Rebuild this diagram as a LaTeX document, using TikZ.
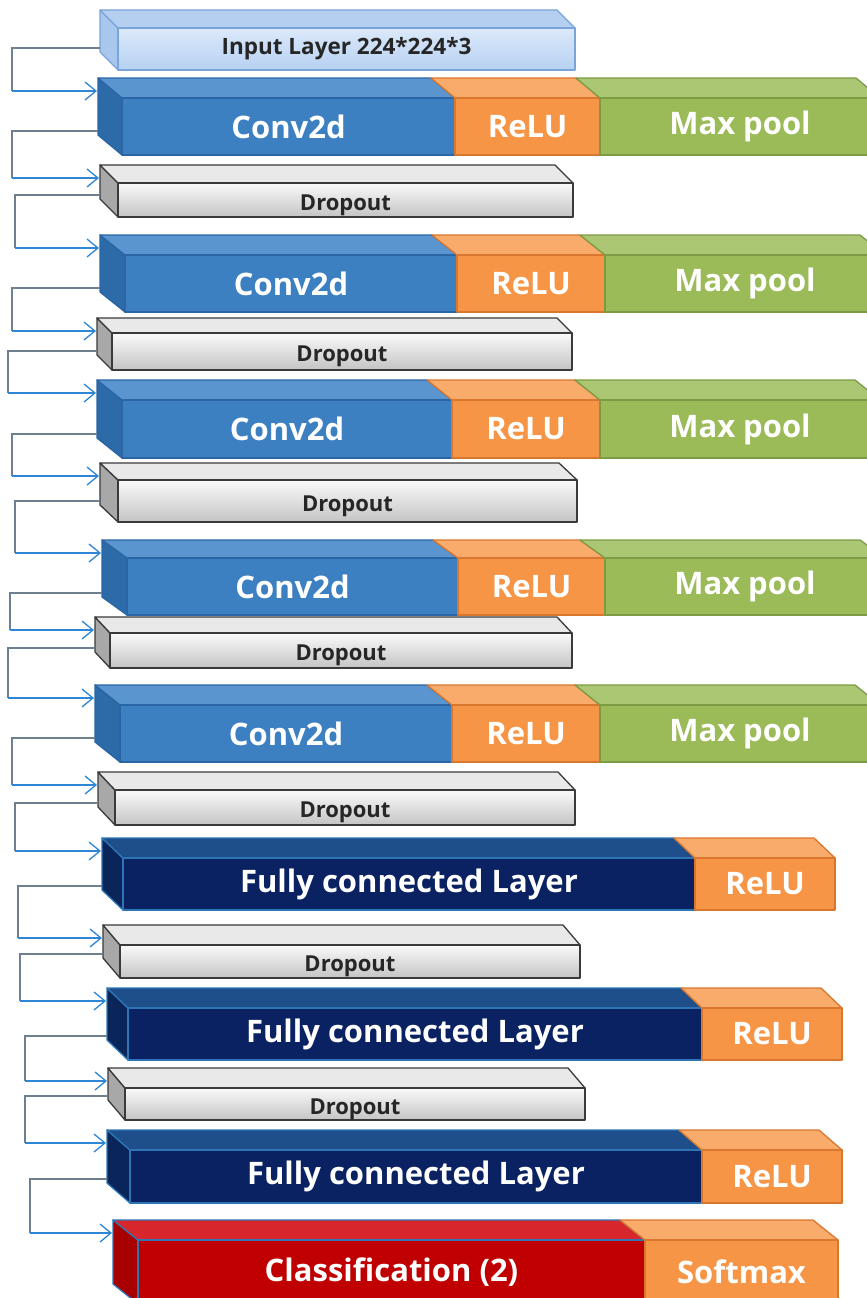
\documentclass[tikz,border=0pt]{standalone}
\usepackage{fontspec}
\setmainfont{Open Sans}
\usetikzlibrary{arrows.meta,calc}
\definecolor{inputtop}{HTML}{B4CFF0}\definecolor{inputfa}{HTML}{DCE9FA}\definecolor{inputfb}{HTML}{B6D1F2}
\definecolor{inputside}{HTML}{A9C6EC}\definecolor{inputbd}{HTML}{7AA5D8}
\definecolor{convtop}{HTML}{5A95CF}\definecolor{convfront}{HTML}{3C80C2}\definecolor{convside}{HTML}{2C6AA8}\definecolor{convbd}{HTML}{2A66A5}
\definecolor{relutop}{HTML}{F9AB6B}\definecolor{relufront}{HTML}{F79546}\definecolor{relubd}{HTML}{D9772E}
\definecolor{pooltop}{HTML}{ACC774}\definecolor{poolfront}{HTML}{9BBB59}\definecolor{poolbd}{HTML}{7D9A44}
\definecolor{droptop}{HTML}{E9E9E9}\definecolor{dropfa}{HTML}{FAFAFA}\definecolor{dropfb}{HTML}{C4C4C4}\definecolor{dropside}{HTML}{A8A8A8}\definecolor{dropbd}{HTML}{3A3A3A}
\definecolor{fctop}{HTML}{1F4F8A}\definecolor{fcfront}{HTML}{0A2262}\definecolor{fcside}{HTML}{0A2559}\definecolor{fcbd}{HTML}{2E75B6}
\definecolor{clstop}{HTML}{D8262D}\definecolor{clsfront}{HTML}{C00000}\definecolor{clsside}{HTML}{A80000}
\definecolor{glinec}{HTML}{6E7F90}\definecolor{blinec}{HTML}{2F86D6}
\tikzset{
 lw/.style={line width=1.3pt, line join=round},
 intop/.style={fill=inputtop,draw=inputbd,lw}, infront/.style={top color=inputfa,bottom color=inputfb,draw=inputbd,lw},
 inside/.style={fill=inputside,draw=inputbd,lw}, intext/.style={font=\fontsize{22.5}{26}\selectfont\bfseries, text=black!85},
 convtop/.style={fill=convtop,draw=convbd,lw}, convfront/.style={fill=convfront,draw=convbd,lw},
 convside/.style={fill=convside,draw=convbd,lw}, convtext/.style={wlab},
 relutop/.style={fill=relutop,draw=relubd,lw}, relufront/.style={fill=relufront,draw=relubd,lw}, relutext/.style={wlab},
 pooltop/.style={fill=pooltop,draw=poolbd,lw}, poolfront/.style={fill=poolfront,draw=poolbd,lw}, pooltext/.style={wlab},
 droptop/.style={fill=droptop,draw=dropbd,lw}, dropfront/.style={top color=dropfa,bottom color=dropfb,draw=dropbd,lw},
 dropside/.style={fill=dropside,draw=dropbd,lw}, droptext/.style={font=\fontsize{22}{25}\selectfont\bfseries, text=black!85, yshift=-5pt},
 fctop/.style={fill=fctop,draw=fcbd,lw}, fcfront/.style={fill=fcfront,draw=fcbd,lw},
 fcside/.style={fill=fcside,draw=fcbd,lw}, fctext/.style={wlab},
 clstop/.style={fill=clstop,draw=fcbd,lw}, clsfront/.style={fill=clsfront,draw=fcbd,lw},
 clsside/.style={fill=clsside,draw=fcbd,lw}, clstext/.style={wlab},
 wlab/.style={font=\fontsize{31}{36}\selectfont\bfseries, text=white},
 gline/.style={draw=glinec, line width=1.3pt},
 bline/.style={draw=blinec, line width=1.3pt, -{Straight Barb[length=11pt,width=18pt,line width=1.3pt]}},
}
% #1 x0, #2 y0, #3 h, #4 dx, #5 dy, #6 style, #7 name
\newcommand\sideface[7]{%
 \path[#6side] (#1,#2) -- ++(#4,#5) -- ++(0,#3) -- ++({-#4},{-#5}) -- cycle;
 \coordinate (#7-in) at ({#1-1},{#2+13});
 \coordinate (#7-out) at (#1,{#2+#3-4});
}
% #1 x0, #2 x1, #3 y0, #4 h, #5 dx, #6 dy, #7 style, #8 name, #9 text
\newcommand\seg[9]{%
 \path[#7top] (#1,#3) -- (#2,#3) -- ++(#5,#6) -- ({#1+#5},{#3+#6}) -- cycle;
 \path[#7front] ({#1+#5},{#3+#6}) rectangle ({#2+#5},{#3+#6+#4});
 \node[#7text] (#8) at ({(#1+#2)/2+#5},{#3+#6+#4/2}) {#9};
}
\newcommand\link[3]{% from, to, x of the vertical run
 \coordinate (#1-k) at (#3,0);
 \draw[gline] (#1-out) -| (#1-k |- #2-in);
 \draw[bline] (#1-k |- #2-in) -- (#2-in);
}
\begin{document}
\begin{tikzpicture}[x=1pt,y=-1pt]
\useasboundingbox (0,0) rectangle (867,1298);
\clip (0,0) rectangle (867,1298);
\fill[white] (0,0) rectangle (867,1298);
% Input
\sideface{100}{10}{42}{18}{18}{in}{inp}
\seg{100}{557}{10}{42}{18}{18}{in}{inp}{Input Layer 224*224*3}
% Conv 1
\sideface{98}{78}{57}{24}{20}{conv}{b1}
\seg{98}{431}{78}{57}{24}{20}{conv}{c1}{Conv2d}
\seg{431}{576}{78}{57}{24}{20}{relu}{r1}{ReLU}
\seg{576}{856}{78}{57}{24}{20}{pool}{p1}{Max pool}
% Dropout 1
\sideface{100}{165}{34}{18}{18}{drop}{d1}
\seg{100}{555}{165}{34}{18}{18}{drop}{dt1}{Dropout}
% Conv 2
\sideface{100}{235}{57}{25}{20}{conv}{b2}
\seg{100}{432}{235}{57}{25}{20}{conv}{c2}{Conv2d}
\seg{432}{580}{235}{57}{25}{20}{relu}{r2}{ReLU}
\seg{580}{860}{235}{57}{25}{20}{pool}{p2}{Max pool}
% Dropout 2
\sideface{97}{318}{37}{15}{15}{drop}{d2}
\seg{97}{557}{318}{37}{15}{15}{drop}{dt2}{Dropout}
% Conv 3
\sideface{97}{380}{58}{25}{20}{conv}{b3}
\seg{97}{427}{380}{58}{25}{20}{conv}{c3}{Conv2d}
\seg{427}{575}{380}{58}{25}{20}{relu}{r3}{ReLU}
\seg{575}{855}{380}{58}{25}{20}{pool}{p3}{Max pool}
% Dropout 3
\sideface{100}{463}{42}{18}{17}{drop}{d3}
\seg{100}{559}{463}{42}{18}{17}{drop}{dt3}{Dropout}
% Conv 4
\sideface{102}{540}{57}{25}{18}{conv}{b4}
\seg{102}{433}{540}{57}{25}{18}{conv}{c4}{Conv2d}
\seg{433}{580}{540}{57}{25}{18}{relu}{r4}{ReLU}
\seg{580}{860}{540}{57}{25}{18}{pool}{p4}{Max pool}
% Dropout 4
\sideface{95}{617}{35}{15}{16}{drop}{d4}
\seg{95}{557}{617}{35}{15}{16}{drop}{dt4}{Dropout}
% Conv 5
\sideface{95}{685}{57}{25}{20}{conv}{b5}
\seg{95}{427}{685}{57}{25}{20}{conv}{c5}{Conv2d}
\seg{427}{575}{685}{57}{25}{20}{relu}{r5}{ReLU}
\seg{575}{855}{685}{57}{25}{20}{pool}{p5}{Max pool}
% Dropout 5
\sideface{98}{772}{35}{17}{18}{drop}{d5}
\seg{98}{558}{772}{35}{17}{18}{drop}{dt5}{Dropout}
% FC 1
\sideface{102}{838}{52}{21}{20}{fc}{f1}
\seg{102}{674}{838}{52}{21}{20}{fc}{fc1}{Fully connected Layer}
\seg{674}{814}{838}{52}{21}{20}{relu}{fr1}{ReLU}
% Dropout 6
\sideface{103}{925}{33}{17}{20}{drop}{d6}
\seg{103}{563}{925}{33}{17}{20}{drop}{dt6}{Dropout}
% FC 2
\sideface{107}{988}{52}{21}{20}{fc}{f2}
\seg{107}{681}{988}{52}{21}{20}{fc}{fc2}{Fully connected Layer}
\seg{681}{821}{988}{52}{21}{20}{relu}{fr2}{ReLU}
% Dropout 7
\sideface{108}{1068}{32}{17}{20}{drop}{d7}
\seg{108}{568}{1068}{32}{17}{20}{drop}{dt7}{Dropout}
% FC 3
\sideface{107}{1130}{53}{23}{20}{fc}{f3}
\seg{107}{679}{1130}{53}{23}{20}{fc}{fc3}{Fully connected Layer}
\seg{679}{819}{1130}{53}{23}{20}{relu}{fr3}{ReLU}
% Classification
\sideface{113}{1220}{64}{25}{20}{cls}{cl}
\seg{113}{620}{1220}{64}{25}{20}{cls}{cls1}{Classification (2)}
\seg{620}{813}{1220}{64}{25}{20}{relu}{sm}{Softmax}
% connectors
\link{inp}{b1}{12}
\link{b1}{d1}{12}
\link{d1}{b2}{15}
\link{b2}{d2}{12}
\link{d2}{b3}{8}
\link{b3}{d3}{12}
\link{d3}{b4}{15}
\link{b4}{d4}{10}
\link{d4}{b5}{8}
\link{b5}{d5}{12}
\link{d5}{f1}{15}
\link{f1}{d6}{18}
\link{d6}{f2}{20}
\link{f2}{d7}{25}
\link{d7}{f3}{25}
\link{f3}{cl}{30}
\end{tikzpicture}
\end{document}
